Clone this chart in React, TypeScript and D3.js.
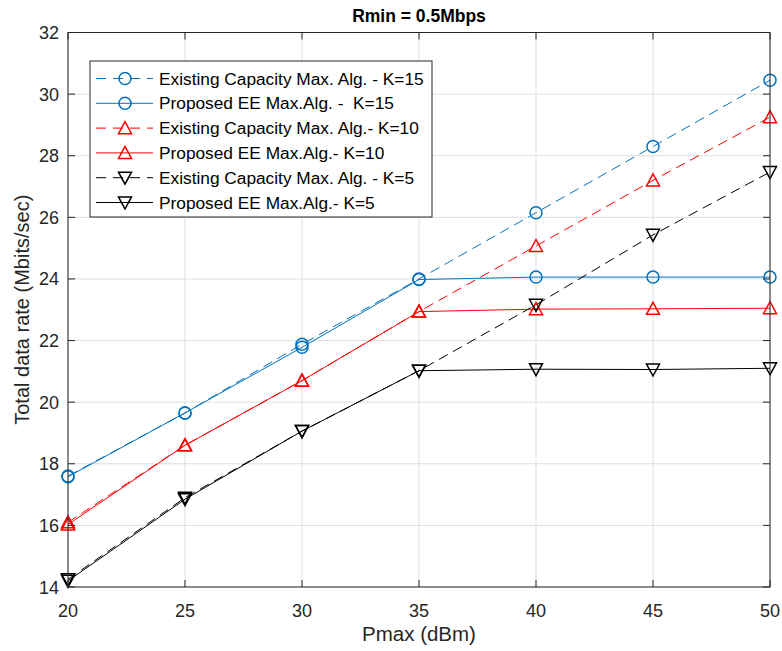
import React from "react";
import * as d3 from "d3";

const pmax = [20, 25, 30, 35, 40, 45, 50];
const existK15 = [17.6, 19.65, 21.88, 24.0, 26.15, 28.3, 30.45];
const propK15 = [17.58, 19.65, 21.78, 23.98, 24.06, 24.06, 24.06];
const existK10 = [16.1, 18.6, 20.7, 22.94, 25.07, 27.2, 29.25];
const propK10 = [16.03, 18.6, 20.7, 22.94, 23.02, 23.03, 23.05];
const existK5 = [14.25, 16.9, 19.06, 21.02, 23.16, 25.43, 27.47];
const propK5 = [14.2, 16.85, 19.06, 21.02, 21.07, 21.06, 21.1];
const xTicks = [20, 25, 30, 35, 40, 45, 50];
const yTicks = [14, 16, 18, 20, 22, 24, 26, 28, 30, 32];

const series = [
  { name: "Existing Capacity Max. Alg. - K=15", values: existK15, color: "#0072BD", dashed: true, marker: "circle" },
  { name: "Proposed EE Max.Alg. -  K=15", values: propK15, color: "#0072BD", dashed: false, marker: "circle" },
  { name: "Existing Capacity Max. Alg.- K=10", values: existK10, color: "#FF0000", dashed: true, marker: "up" },
  { name: "Proposed EE Max.Alg.- K=10", values: propK10, color: "#FF0000", dashed: false, marker: "up" },
  { name: "Existing Capacity Max. Alg. - K=5", values: existK5, color: "#000000", dashed: true, marker: "down" },
  { name: "Proposed EE Max.Alg.- K=5", values: propK5, color: "#000000", dashed: false, marker: "down" },
];

const L = 68, R = 770, T = 32.5, B = 587;
const font = "Arial, 'Liberation Sans', sans-serif";

function Marker({ type, x, y, color }: { type: string; x: number; y: number; color: string }) {
  if (type === "circle") return <circle cx={x} cy={y} r={6} fill="none" stroke={color} strokeWidth={1.5} />;
  const s = 6.5;
  if (type === "up") {
    const p = `${x},${y - s} ${x + s},${y + s * 0.85} ${x - s},${y + s * 0.85}`;
    return <polygon points={p} fill="none" stroke={color} strokeWidth={1.5} />;
  }
  const p = `${x},${y + s} ${x + s},${y - s * 0.85} ${x - s},${y - s * 0.85}`;
  return <polygon points={p} fill="none" stroke={color} strokeWidth={1.5} />;
}

export default function App() {
  const x = d3.scaleLinear().domain([20, 50]).range([L, R]);
  const y = d3.scaleLinear().domain([14, 32]).range([B, T]);
  const line = d3.line<number>().x((_, i) => x(pmax[i])).y((d) => y(d));
  const tick = 7;
  const legX = 90, legY = 61, legW = 342, legH = 156, rowH = 24.8;
  return (
    <svg width={782} height={651} style={{ position: "absolute", left: 0, top: 0, background: "#fff" }} fontFamily={font}>
      <rect x={0} y={0} width={782} height={651} fill="#fff" />
      {xTicks.map((t) => (
        <line key={"gx" + t} x1={x(t)} x2={x(t)} y1={T} y2={B} stroke="#dfdfdf" strokeWidth={1} />
      ))}
      {yTicks.map((t) => (
        <line key={"gy" + t} x1={L} x2={R} y1={y(t)} y2={y(t)} stroke="#dfdfdf" strokeWidth={1} />
      ))}
      {series.map((s, si) => (
        <g key={"s" + si}>
          <path d={line(s.values) || ""} fill="none" stroke={s.color} strokeWidth={1} strokeDasharray={s.dashed ? "10,6" : undefined} />
          {s.values.map((v, i) => (
            <Marker key={i} type={s.marker} x={x(pmax[i])} y={y(v)} color={s.color} />
          ))}
        </g>
      ))}
      <rect x={L} y={T} width={R - L} height={B - T} fill="none" stroke="#262626" strokeWidth={1} />
      {xTicks.map((t) => (
        <g key={"xt" + t}>
          <line x1={x(t)} x2={x(t)} y1={B} y2={B - tick} stroke="#262626" />
          <line x1={x(t)} x2={x(t)} y1={T} y2={T + tick} stroke="#262626" />
          <text x={x(t)} y={B + 30} textAnchor="middle" fontSize={18} fill="#262626">{t}</text>
        </g>
      ))}
      {yTicks.map((t) => (
        <g key={"yt" + t}>
          <line x1={L} x2={L + tick} y1={y(t)} y2={y(t)} stroke="#262626" />
          <line x1={R} x2={R - tick} y1={y(t)} y2={y(t)} stroke="#262626" />
          <text x={L - 9} y={y(t) + 6.5} textAnchor="end" fontSize={18} fill="#262626">{t}</text>
        </g>
      ))}
      <text x={(L + R) / 2} y={641} textAnchor="middle" fontSize={20.5} fill="#262626">Pmax (dBm)</text>
      <text transform={`translate(29,${(T + B) / 2}) rotate(-90)`} textAnchor="middle" fontSize={20} fill="#262626">Total data rate (Mbits/sec)</text>
      <text x={(L + R) / 2} y={22} textAnchor="middle" fontSize={17.5} fontWeight="bold" fill="#000">Rmin = 0.5Mbps</text>
      <rect x={legX} y={legY} width={legW} height={legH} fill="#fff" stroke="#262626" strokeWidth={1} />
      {series.map((s, i) => {
        const cy = legY + 17.5 + i * rowH;
        return (
          <g key={"l" + i}>
            <line x1={96} x2={153} y1={cy} y2={cy} stroke={s.color} strokeWidth={1} strokeDasharray={s.dashed ? "10,7" : undefined} />
            <Marker type={s.marker} x={125} y={cy} color={s.color} />
            <text x={159} y={cy + 6} fontSize={17.3} fill="#000" style={{ whiteSpace: "pre" }}>{s.name}</text>
          </g>
        );
      })}
    </svg>
  );
}
